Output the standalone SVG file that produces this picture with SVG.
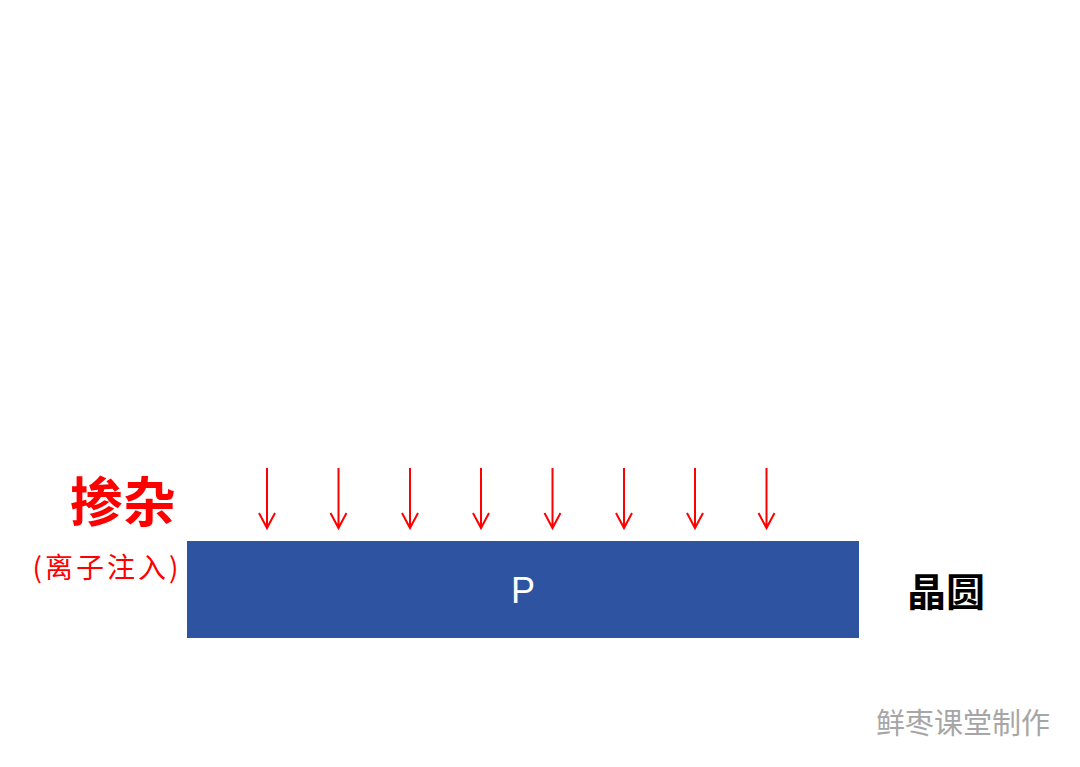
<svg xmlns="http://www.w3.org/2000/svg" width="1080" height="767" viewBox="0 0 1080 767">
<defs>
<style>
.cjk{font-family:"Noto Sans CJK SC","Noto Sans",sans-serif}
.arr{stroke:#ff0000;stroke-width:2;fill:none}
</style>
</defs>
<rect width="1080" height="767" fill="#ffffff"/>
<g id="wafer">
<rect x="187" y="541" width="672" height="97" fill="#2e54a1"/>
<text x="523" y="603" font-family="Liberation Sans,Arial,sans-serif" font-size="36" fill="#ffffff" text-anchor="middle">P</text>
</g>
<g id="label-doping">
<text class="cjk" x="123" y="522" font-size="53" font-weight="bold" fill="#ff0000" text-anchor="middle">掺杂</text>
<text class="cjk" x="107" y="578" font-size="28" letter-spacing="3" fill="#ff0000" text-anchor="middle">(离子注入)</text>
</g>
<g id="label-wafer">
<text class="cjk" x="946" y="606" font-size="39" font-weight="bold" fill="#000000" text-anchor="middle">晶圆</text>
</g>
<g id="watermark">
<text class="cjk" x="963" y="734" font-size="29" fill="#a6a6a6" text-anchor="middle">鲜枣课堂制作</text>
</g>
<g id="connectors" class="arr">
<path d="M267 468V528M259 513L267 528L275 513"/>
<path d="M338.5 468V528M330.5 513L338.5 528L346.5 513"/>
<path d="M410 468V528M402 513L410 528L418 513"/>
<path d="M481 468V528M473 513L481 528L489 513"/>
<path d="M552.5 468V528M544.5 513L552.5 528L560.5 513"/>
<path d="M624 468V528M616 513L624 528L632 513"/>
<path d="M695 468V528M687 513L695 528L703 513"/>
<path d="M766.5 468V528M758.5 513L766.5 528L774.5 513"/>
</g>
</svg>
